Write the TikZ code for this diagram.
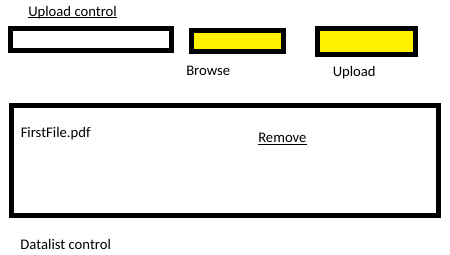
\documentclass[tikz,border=0pt]{standalone}
\usepackage{fontspec}
\setmainfont{Carlito}
\definecolor{btnyellow}{RGB}{255,242,0}
\begin{document}
\begin{tikzpicture}[x=0.75pt,y=-0.75pt,
  frame/.style={draw=black,line width=3.75pt},
  btn/.style={frame,fill=btnyellow},
  lbl/.style={inner sep=0pt,anchor=base west,font=\fontsize{11pt}{13pt}\selectfont},
  uline/.style={line width=0.75pt}]
\useasboundingbox (0,0) rectangle (450,254);
\node[lbl] (uc) at (28,16) {Upload control};
\draw[uline] ([yshift=-1.3pt]uc.base west) -- ([yshift=-1.3pt]uc.base east);
\draw[frame] (10.5,28.5) rectangle (171.5,50.2);
\draw[btn] (191.4,30.4) rectangle (283.3,51);
\draw[btn] (317.5,28.2) rectangle (415.2,54.2);
\node[lbl] (browse) at (186,75) {Browse};
\node[lbl] (upload) at (332.5,76.7) {Upload};
\draw[frame] (11.5,105.8) rectangle (438.5,215.2);
\node[lbl] (file) at (20.5,137.3) {FirstFile.pdf};
\node[lbl] (remove) at (258,142.3) {Remove};
\draw[uline] ([yshift=-1.5pt]remove.base west) -- ([yshift=-1.5pt]remove.base east);
\node[lbl] (dl) at (20.2,249.3) {Datalist control};
\end{tikzpicture}
\end{document}
